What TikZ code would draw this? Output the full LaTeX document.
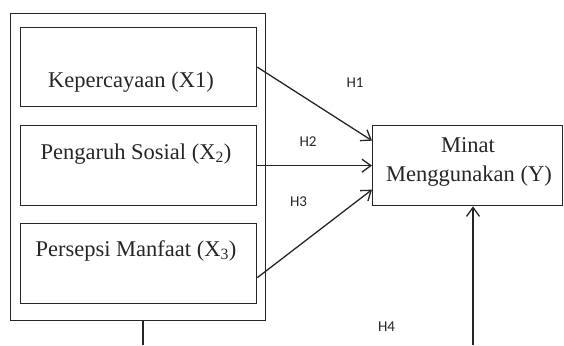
\documentclass[tikz,border=0pt]{standalone}
\usepackage{fontspec}
\setmainfont{Liberation Serif}
\newfontfamily\labelfont{Carlito}
\usetikzlibrary{arrows.meta}
\begin{document}
\begin{tikzpicture}[x=1pt,y=-1pt,
  box/.style={draw=black!85,line width=1.3pt,rectangle,inner sep=0pt,anchor=north west},
  btext/.style={font=\fontsize{22.5}{26}\selectfont,anchor=base,inner sep=0pt,text=black!85},
  hlab/.style={font=\labelfont\fontsize{15}{16}\selectfont,inner sep=0pt,text=black!85},
  conn/.style={line width=1.3pt,draw=black!85},
  arr/.style={conn,-{Straight Barb[length=9pt,width=13pt,line width=1.3pt]}}]
\useasboundingbox (0,0) rectangle (564,345);
% outer group box
\node[box,minimum width=255pt,minimum height=307pt] (outer) at (10,13) {};
% inner boxes
\node[box,minimum width=236pt,minimum height=79pt] (b1) at (20,27) {};
\node[box,minimum width=236pt,minimum height=80pt] (b2) at (20,125) {};
\node[box,minimum width=236pt,minimum height=80pt] (b3) at (20,223) {};
\node[box,minimum width=190pt,minimum height=80pt] (Y) at (372,125) {};
% texts
\node[btext] (t1) at (131,87) {Kepercayaan (X1)};
\node[btext] (t2) at (136,159.5) {Pengaruh Sosial (X\textsubscript{2})};
\node[btext] (t3) at (136,256.5) {Persepsi Manfaat (X\textsubscript{3})};
\node[btext] (ty1) at (468,152) {Minat};
\node[btext] (ty2) at (469,181) {Menggunakan (Y)};
% labels
\node[hlab] (h1) at (355,83) {H1};
\node[hlab] (h2) at (308,142) {H2};
\node[hlab] (h3) at (298.5,202) {H3};
\node[hlab] (h4) at (386.5,326.7) {H4};
% connectors
\draw[arr] (b1.east) -- ([yshift=25pt]Y.west);
\draw[arr] (b2.east) -- (Y.west);
\draw[arr] ([yshift=-14pt]b3.east) -- ([yshift=-24pt]Y.west);
\coordinate (v) at (473,345);
\draw[arr] (v) -- (v |- Y.south);
\coordinate (d) at (143,345);
\draw[conn] (outer.south -| d) -- (d);
\end{tikzpicture}
\end{document}
